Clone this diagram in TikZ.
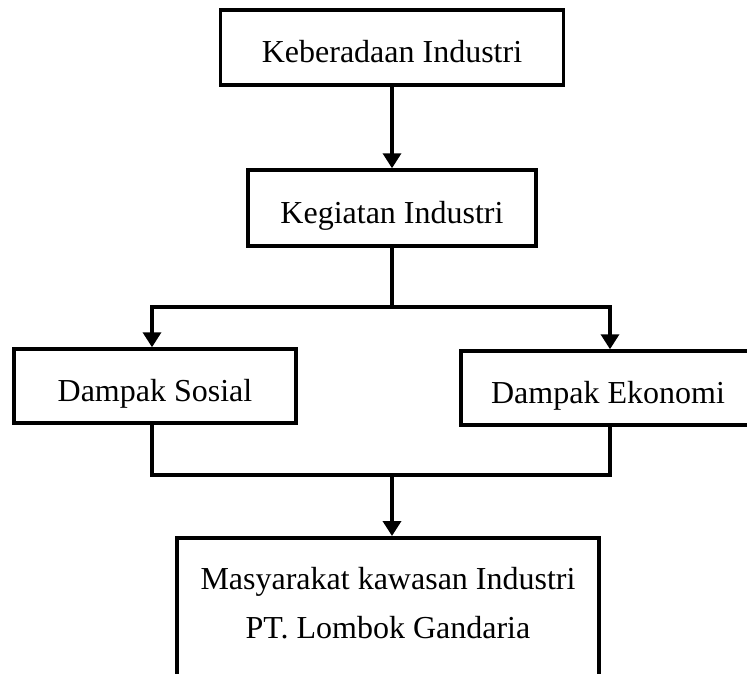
\documentclass[tikz,border=0pt]{standalone}
\usepackage{fontspec}
\setmainfont{Liberation Serif}
\usetikzlibrary{arrows.meta}
\begin{document}
\begin{tikzpicture}[x=1pt,y=-1pt,
  box/.style={draw=black, line width=3.5pt, rectangle, inner sep=0pt,
    font=\fontsize{32}{49}\selectfont, text height=30pt, text depth=0pt},
  conn/.style={draw=black, line width=3.5pt},
  arr/.style={conn, -{Triangle[width=18pt,length=15pt]}}]
\useasboundingbox (0,0) rectangle (747,673);
\node[box, minimum width=343pt, minimum height=75pt] (top) at (392,47.5) {Keberadaan Industri};
\node[box, minimum width=288pt, minimum height=76pt] (keg) at (392,208) {Kegiatan Industri};
\node[box, minimum width=282pt, minimum height=74pt] (sos) at (155,386) {Dampak Sosial};
\node[box, minimum width=294pt, minimum height=74pt] (eko) at (608,388) {Dampak Ekonomi};
\node[box, anchor=north, minimum width=422pt, minimum height=184pt, text height=0pt] (bot) at (388,536) {};
\node[anchor=base, inner sep=0pt, font=\fontsize{32}{49}\selectfont] (bottxt) at (388,589)
  {\begin{tabular}[t]{@{}c@{}}Masyarakat kawasan Industri\\PT. Lombok Gandaria\end{tabular}};
\coordinate (j1) at (392,307);
\coordinate (j2) at (392,475);
\draw[arr] (top) -- (keg);
\draw[conn] (keg.south) -- (j1);
\draw[arr] (j1) -| ([xshift=-3pt]sos.north);
\draw[arr] (j1) -| ([xshift=2pt]eko.north);
\draw[conn] ([xshift=-3pt]sos.south) |- (j2) -| ([xshift=2pt]eko.south);
\draw[arr] (j2) -- (j2 |- bot.north);
\end{tikzpicture}
\end{document}
